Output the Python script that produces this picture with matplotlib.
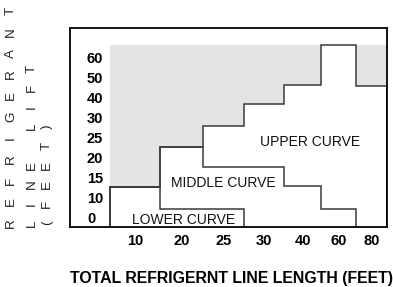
import matplotlib
matplotlib.use('Agg')
import matplotlib.pyplot as plt

plt.rcParams['font.family'] = ['Liberation Sans', 'DejaVu Sans']

# ---- data ----
x_labels = ['10', '20', '25', '30', '40', '60', '80']
y_labels = ['0', '10', '15', '20', '25', '30', '40', '50', '60']
col_edges = [0, 50, 93, 134, 174, 211, 246, 277]          # column boundaries (chart units)
upper_curve = [1.55, 3.55, 4.55, 5.65, 6.6, 8.6, 6.55]     # in y-label index units
middle_curve = [1.55, 3.55, 2.55, 2.55, 1.6, 0.45]
lower_curve = [1.55, 0.45, 0.45]
shade_top = 8.6
ylabel_lines = ['REFRIGERANT', 'LINE LIFT', '(FEET)']
xlabel = 'TOTAL REFRIGERNT LINE LENGTH (FEET)'

W, H = 393, 287
fig = plt.figure(figsize=(W / 100, H / 100), dpi=100)
ax = fig.add_axes([70 / W, (H - 227) / H, (387 - 70) / W, (227 - 28) / H])
ymin, ymax = -0.45, 9.45
ax.set_xlim(-40, col_edges[-1])
ax.set_ylim(ymin, ymax)

# grey shaded region above upper curve
ax.fill_between(col_edges, upper_curve + [upper_curve[-1]], shade_top,
                step='post', color='#e4e4e4', lw=0, zorder=1)

line_kw = dict(color='#3a3a3a', lw=1.1, zorder=3)
ax.stairs(upper_curve, col_edges, baseline=ymin, **line_kw)
ax.stairs(middle_curve, col_edges[:len(middle_curve) + 1], baseline=ymin, **line_kw)
ax.stairs(lower_curve, col_edges[:len(lower_curve) + 1], baseline=ymin, **line_kw)

# curve labels
ax.text(200, 3.78, 'UPPER CURVE', ha='center', va='center', fontsize=10, color='#111')
ax.text(113.5, 1.74, 'MIDDLE CURVE', ha='center', va='center', fontsize=10, color='#111')
ax.text(73.5, -0.1, 'LOWER CURVE', ha='center', va='center', fontsize=10, color='#111')

# ticks
centers = [(a + b) / 2 for a, b in zip(col_edges[:-1], col_edges[1:])]
ax.set_xticks(centers, x_labels, fontsize=10.5, fontweight='bold')
ax.set_yticks(range(len(y_labels)), y_labels, fontsize=10.5, fontweight='bold')
ax.tick_params(axis='both', length=0)
ax.tick_params(axis='x', pad=5.0)
ax.tick_params(axis='y', pad=-12.2)
for lab in ax.get_yticklabels():
    lab.set_ha('left')

for s in ax.spines.values():
    s.set_linewidth(1.3)
    s.set_color('black')
    s.set_zorder(4)

# x label
fig.text(232 / W, 1 - 278.5 / H, xlabel, ha='center', va='center',
         fontsize=11.4, fontweight='bold')

# spaced vertical y label, one letter at a time
col_x = [11, 32, 47]
pitches = [21.2, 19.3, 19.3]
for line, cx, p in zip(ylabel_lines, col_x, pitches):
    for i, ch in enumerate(line):
        if ch == ' ':
            continue
        fig.text(cx / W, 1 - (223 - i * p) / H, ch, rotation=90,
                 ha='center', va='center', fontsize=9.6, color='#222222')

fig.savefig('out.png', dpi=100)
